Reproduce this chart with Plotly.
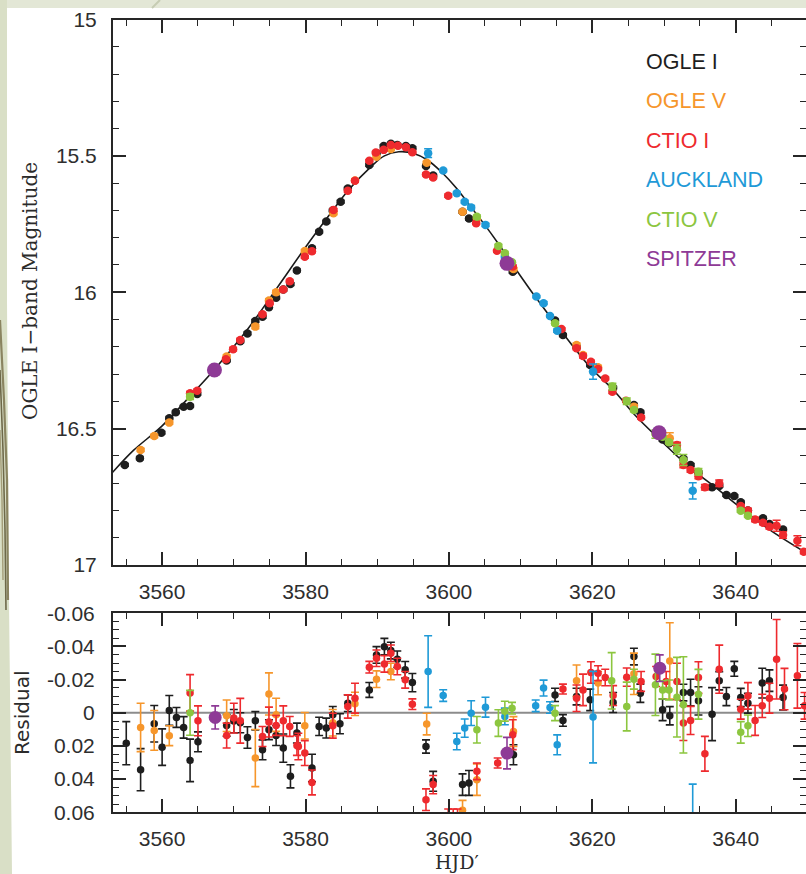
import plotly.graph_objects as go

# ---------------- series ----------------
SERIES = ["OGLE I", "OGLE V", "CTIO I", "AUCKLAND", "CTIO V", "SPITZER"]
COLORS = ["#1e1e1e", "#f6962b", "#ee2a2e", "#1f9ad7", "#8cc63f", "#8e3a96"]

# light curve points: (HJD', I-band magnitude, error)
ogle_i_lc = [
    (3554.8, 16.633, .005), (3556.9, 16.609, .005), (3559.9, 16.515, .005), (3561.0, 16.462, .005),
    (3561.9, 16.440, .005), (3563.0, 16.420, .005), (3563.9, 16.417, .005), (3564.9, 16.373, .005),
    (3569.0, 16.250, .005), (3570.9, 16.180, .005), (3571.9, 16.151, .005), (3573.0, 16.105, .005),
    (3574.0, 16.090, .005), (3574.9, 16.055, .005), (3575.9, 16.020, .005), (3576.9, 15.990, .005),
    (3577.9, 15.970, .005), (3578.8, 15.920, .005), (3580.9, 15.839, .005), (3581.9, 15.778, .005),
    (3582.9, 15.741, .005), (3583.8, 15.700, .005), (3584.9, 15.668, .005), (3585.9, 15.620, .005),
    (3588.9, 15.533, .005), (3589.9, 15.490, .005), (3590.9, 15.464, .005), (3591.9, 15.456, .005),
    (3592.8, 15.460, .005), (3594.0, 15.464, .005), (3594.9, 15.472, .005), (3596.8, 15.537, .005),
    (3597.8, 15.572, .005), (3601.9, 15.705, .005), (3602.8, 15.730, .005), (3608.9, 15.925, .005),
    (3614.8, 16.104, .005), (3615.9, 16.157, .005), (3617.8, 16.200, .005), (3619.7, 16.267, .005),
    (3622.9, 16.350, .005), (3625.8, 16.413, .005), (3626.7, 16.440, .005), (3629.8, 16.540, .005),
    (3630.7, 16.554, .005), (3632.7, 16.610, .005), (3633.7, 16.633, .005), (3634.8, 16.660, .005),
    (3636.7, 16.715, .005), (3637.7, 16.710, .005), (3638.7, 16.743, .005), (3639.8, 16.747, .005),
    (3640.7, 16.770, .005), (3641.7, 16.800, .005), (3643.8, 16.829, .005), (3644.7, 16.850, .005),
    (3646.6, 16.870, .005),
]
ogle_v_lc = [
    (3557.0, 16.578, .006), (3558.9, 16.527, .006), (3561.0, 16.478, .006), (3569.0, 16.236, .006),
    (3573.0, 16.126, .008), (3574.9, 16.030, .006), (3575.9, 16.000, .006), (3579.9, 15.849, .006),
    (3583.9, 15.710, .006), (3586.9, 15.590, .006), (3589.9, 15.503, .005), (3591.9, 15.475, .005),
    (3596.9, 15.525, .005), (3601.9, 15.705, .005), (3603.9, 15.730, .006), (3609.0, 15.915, .006),
    (3617.8, 16.193, .007), (3618.7, 16.230, .006), (3620.8, 16.275, .006), (3625.8, 16.420, .008),
    (3630.8, 16.535, .020),
]
ctio_i_lc = [
    (3563.9, 16.370, .006), (3564.9, 16.361, .006), (3568.9, 16.246, .006), (3569.9, 16.209, .006),
    (3570.9, 16.175, .006), (3574.0, 16.081, .005), (3575.0, 16.040, .005), (3576.9, 15.990, .005),
    (3577.8, 15.960, .005), (3579.9, 15.870, .005), (3580.9, 15.850, .005), (3583.9, 15.698, .005),
    (3585.9, 15.628, .005), (3586.9, 15.591, .005), (3588.9, 15.518, .004), (3589.8, 15.488, .004),
    (3590.9, 15.478, .004), (3591.9, 15.460, .004), (3592.9, 15.463, .004), (3594.0, 15.468, .004),
    (3594.9, 15.487, .004), (3596.8, 15.568, .005), (3597.8, 15.579, .005), (3599.9, 15.646, .006),
    (3603.8, 15.747, .005), (3606.7, 15.848, .004), (3608.9, 15.906, .006), (3615.7, 16.135, .004),
    (3617.8, 16.205, .006), (3618.7, 16.234, .007), (3619.8, 16.255, .006), (3620.8, 16.281, .005),
    (3621.8, 16.316, .005), (3622.8, 16.365, .006), (3624.7, 16.398, .005), (3626.8, 16.459, .006),
    (3628.9, 16.520, .006), (3631.8, 16.560, .010), (3632.7, 16.633, .010), (3633.7, 16.652, .008),
    (3634.8, 16.675, .009), (3635.7, 16.715, .010), (3637.7, 16.700, .012), (3640.7, 16.784, .006),
    (3641.7, 16.800, .008), (3642.7, 16.833, .008), (3643.8, 16.845, .007), (3644.7, 16.860, .008),
    (3645.7, 16.856, .020), (3646.6, 16.890, .012), (3648.6, 16.911, .018), (3649.5, 16.951, .008),
]
auckland_lc = [
    (3597.1, 15.490, .016), (3599.2, 15.554, .004), (3601.1, 15.637, .005), (3602.2, 15.668, .005),
    (3603.1, 15.689, .007), (3605.1, 15.753, .006), (3607.8, 15.870, .005), (3612.2, 16.016, .004),
    (3613.2, 16.040, .005), (3614.1, 16.087, .004), (3615.1, 16.141, .006), (3620.1, 16.291, .028),
    (3634.0, 16.728, .030),
]
ctio_v_lc = [
    (3563.9, 16.383, .010), (3603.9, 15.723, .006), (3606.9, 15.830, .006), (3607.8, 15.857, .005),
    (3608.8, 15.890, .004), (3614.8, 16.114, .005), (3622.8, 16.346, .012), (3624.8, 16.400, .012),
    (3625.8, 16.432, .006), (3628.8, 16.520, .015), (3629.8, 16.530, .006), (3630.7, 16.550, .006),
    (3631.8, 16.576, .018), (3632.7, 16.615, .020), (3634.8, 16.658, .012), (3640.7, 16.801, .006),
    (3641.7, 16.819, .006),
]
spitzer_lc = [(3567.3, 16.285, .006), (3608.1, 15.894, .008), (3629.3, 16.515, .008)]

# residuals from the fit: (HJD', residual, error)
ogle_i_res = [
    (3555.0, .0183, .0130), (3557.0, .0343, .0127), (3558.9, .0066, .0110), (3560.0, .0207, .0110),
    (3561.0, -.0014, .0090), (3562.0, .0028, .0060), (3563.0, .0088, .0065), (3563.9, .0287, .0128),
    (3565.0, .0175, .0060), (3569.0, .0076, .0065), (3570.0, .0050, .0070), (3570.9, .0060, .0060),
    (3571.9, .0149, .0065), (3573.0, .0048, .0055), (3574.0, .0223, .0060), (3574.9, .0102, .0060),
    (3575.9, .0137, .0060), (3576.9, .0213, .0085), (3577.9, .0383, .0070), (3578.8, .0122, .0060),
    (3580.9, .0333, .0083), (3581.9, .0082, .0055), (3582.9, .0092, .0060), (3583.8, .0012, .0050),
    (3584.8, .0066, .0060), (3585.9, -.0058, .0050), (3588.9, -.0138, .0045), (3589.9, -.0349, .0050),
    (3591.0, -.0399, .0050), (3591.9, -.0375, .0050), (3592.8, -.0323, .0050), (3593.9, -.0259, .0050),
    (3594.9, -.0182, .0055), (3596.8, .0203, .0040), (3597.8, .0413, .0060), (3601.9, .0433, .0065),
    (3602.8, .0423, .0075), (3609.0, .0253, .0060), (3614.8, -.0108, .0040), (3615.9, .0046, .0035),
    (3617.8, -.0098, .0050), (3619.7, -.0078, .0065), (3622.9, -.0062, .0060), (3625.8, -.0339, .0050),
    (3626.7, -.0118, .0055), (3629.8, -.0018, .0065), (3630.8, .0018, .0055), (3632.7, -.0122, .0050),
    (3633.7, -.0122, .0080), (3634.8, -.0072, .0085), (3636.7, .0008, .0160), (3637.7, -.0193, .0055),
    (3638.7, -.0098, .0055), (3639.8, -.0265, .0045), (3640.7, -.0092, .0055), (3641.7, -.0058, .0060),
    (3643.7, -.0179, .0090), (3644.7, -.0194, .0065), (3646.6, -.0092, .0075),
]
ogle_v_res = [
    (3557.0, .0088, .0146), (3558.9, .0106, .0120), (3561.0, .0138, .0060), (3569.0, .0018, .0095),
    (3573.0, .0273, .0172), (3574.9, -.0114, .0127), (3575.9, .0012, .0100), (3579.9, .0078, .0080),
    (3583.8, .0060, .0080), (3586.9, -.0054, .0070), (3589.9, -.0203, .0050), (3591.9, -.0249, .0050),
    (3596.9, .0068, .0065), (3601.9, .0588, .0060), (3603.9, .0403, .0095), (3609.0, .0113, .0090),
    (3617.8, -.0193, .0095), (3620.8, -.0179, .0070), (3625.8, -.0235, .0125), (3630.8, -.0313, .0230),
]
ctio_i_res = [
    (3563.9, -.0120, .0110), (3565.0, .0048, .0090), (3569.0, .0137, .0075), (3570.0, .0032, .0090),
    (3570.9, .0048, .0135), (3574.0, .0143, .0060), (3574.9, .0056, .0090), (3575.9, .0076, .0060),
    (3576.9, .0048, .0090), (3577.8, .0082, .0060), (3578.8, .0197, .0060), (3579.0, .0203, .0080),
    (3579.9, .0243, .0075), (3580.9, .0420, .0075), (3583.8, .0078, .0075), (3585.9, -.0038, .0070),
    (3586.9, -.0088, .0090), (3588.9, -.0275, .0035), (3589.9, -.0329, .0050), (3591.0, -.0295, .0050),
    (3591.9, -.0359, .0050), (3592.8, -.0279, .0050), (3593.9, -.0199, .0050), (3594.9, -.0052, .0032),
    (3596.8, .0524, .0065), (3597.8, .0433, .0055), (3599.9, .0680, .0100), (3600.6, .0700, .0120),
    (3601.2, .0720, .0140), (3603.9, .0353, .0050), (3606.8, .0303, .0030), (3608.9, .0132, .0090),
    (3615.9, -.0143, .0030), (3617.8, -.0088, .0080), (3618.7, -.0138, .0095), (3619.8, -.0243, .0065),
    (3620.8, -.0239, .0045), (3621.8, -.0213, .0050), (3622.9, -.0104, .0060), (3624.8, -.0215, .0055),
    (3626.8, -.0189, .0060), (3628.9, -.0219, .0060), (3630.3, -.0189, .0060), (3631.8, -.0189, .0110),
    (3632.7, .0062, .0105), (3633.7, .0046, .0085), (3634.8, -.0213, .0095), (3635.7, .0247, .0105),
    (3637.7, -.0263, .0145), (3640.7, -.0022, .0060), (3641.7, -.0102, .0080), (3642.7, .0046, .0090),
    (3643.7, -.0042, .0070), (3644.7, -.0088, .0090), (3645.7, -.0323, .0240), (3646.8, -.0143, .0125),
    (3648.6, -.0223, .0195), (3649.6, -.0042, .0080),
]
auckland_res = [
    (3597.1, -.0249, .0216), (3599.2, -.0104, .0035), (3601.1, .0173, .0050), (3602.2, .0092, .0055),
    (3603.1, .0002, .0075), (3605.1, -.0034, .0060), (3607.8, .0022, .0050), (3612.1, -.0042, .0035),
    (3613.2, -.0149, .0048), (3614.1, -.0032, .0035), (3615.1, .0193, .0060), (3620.1, .0026, .0276),
    (3634.0, .0750, .0320),
]
ctio_v_res = [
    (3563.9, .0000, .0135), (3603.9, .0102, .0080), (3606.9, .0062, .0080), (3607.8, -.0010, .0060),
    (3608.8, -.0028, .0035), (3614.8, .0002, .0045), (3622.7, -.0193, .0170), (3624.8, -.0038, .0147),
    (3625.8, -.0203, .0060), (3628.8, -.0169, .0185), (3629.8, -.0138, .0055), (3630.7, -.0138, .0060),
    (3631.8, -.0094, .0240), (3632.7, -.0048, .0290), (3634.8, -.0112, .0150), (3640.7, .0118, .0065),
    (3641.7, .0078, .0065),
]
spitzer_res = [(3567.4, .0028, .0070), (3608.1, .0243, .0095), (3629.4, -.0269, .0080)]

# best-fit model light curve
model_hjd = [3553.0, 3556.0, 3560.0, 3564.0, 3567.3, 3572.0, 3576.0, 3580.0, 3583.0, 3586.0,
             3589.0, 3591.0, 3593.0, 3595.0, 3597.0, 3599.0, 3601.0, 3603.0, 3605.0, 3607.0,
             3609.0, 3612.0, 3615.0, 3619.7, 3623.0, 3626.0, 3629.4, 3633.7, 3637.7, 3640.0,
             3644.7, 3650.0]
model_mag = [16.663, 16.580, 16.490, 16.378, 16.283, 16.133, 15.985, 15.835, 15.728, 15.625,
             15.543, 15.500, 15.485, 15.490, 15.515, 15.560, 15.617, 15.685, 15.753, 15.826,
             15.903, 16.015, 16.120, 16.275, 16.360, 16.452, 16.540, 16.645, 16.726, 16.776,
             16.870, 16.958]

LC = [ogle_i_lc, ogle_v_lc, ctio_i_lc, auckland_lc, ctio_v_lc, spitzer_lc]
RES = [ogle_i_res, ogle_v_res, ctio_i_res, auckland_res, ctio_v_res, spitzer_res]

X_TICKS = [3560, 3580, 3600, 3620, 3640]
MAG_TICKS = [15, 15.5, 16, 16.5, 17]
MAG_LABELS = ["15", "15.5", "16", "16.5", "17"]
RES_TICKS = [-0.06, -0.04, -0.02, 0, 0.02, 0.04, 0.06]
RES_LABELS = ["-0.06", "-0.04", "-0.02", "0", "0.02", "0.04", "0.06"]

# ---------------- page geometry (pixels) ----------------
W, H = 806, 874
LEFT = 113
TOP_PANEL = (19.5, 565.0)     # top, bottom
RES_PANEL = (613.3, 812.3)


def px_x(p):
    return (p - LEFT) / (W - LEFT)


def px_y(p):
    return 1 - p / H


def px_path(points):
    return "M " + " L ".join(f"{px_x(a):.5f},{px_y(b):.5f}" for a, b in points)


fig = go.Figure()

# model curve
fig.add_trace(go.Scatter(x=model_hjd, y=model_mag, mode="lines",
                         line=dict(color="#1a1a1a", width=1.6, shape="spline"),
                         hoverinfo="skip", xaxis="x", yaxis="y"))
# zero line for residuals
fig.add_trace(go.Scatter(x=[3540, 3670], y=[0, 0], mode="lines", line=dict(color="#8c8c8c", width=2),
                         hoverinfo="skip", xaxis="x2", yaxis="y2"))

for name, col, lc, rs in zip(SERIES, COLORS, LC, RES):
    big = name == "SPITZER"
    fig.add_trace(go.Scatter(
        x=[p[0] for p in lc], y=[p[1] for p in lc], mode="markers", name=name,
        marker=dict(color=col, size=15 if big else 8.5, line=dict(width=0)),
        error_y=dict(type="data", array=[p[2] for p in lc], color=col, thickness=1.5, width=4),
        xaxis="x", yaxis="y"))
    fig.add_trace(go.Scatter(
        x=[p[0] for p in rs], y=[p[1] for p in rs], mode="markers", name=name,
        marker=dict(color=col, size=13 if big else 7.5, line=dict(width=0)),
        error_y=dict(type="data", array=[p[2] for p in rs], color=col, thickness=1.6, width=4),
        xaxis="x2", yaxis="y2"))

AX = "#262626"
SANS = "Liberation Sans, Arial, sans-serif"
tickfont = dict(family=SANS, size=21, color="#2e2e2e")
common = dict(showline=True, linecolor=AX, linewidth=2, mirror="ticks", ticks="inside", ticklen=13,
              tickwidth=1.5, tickcolor=AX, showgrid=False, zeroline=False, tickfont=tickfont)

xcommon = dict(common, range=[3553.15, 3649.8], tickvals=X_TICKS, ticktext=[str(v) for v in X_TICKS],
               minor=dict(ticks="inside", ticklen=6, tickwidth=1.3, tickcolor=AX, dtick=5, tick0=3560,
                          showgrid=False))

fig.update_layout(
    width=W, height=H,
    margin=dict(l=LEFT, r=0, t=0, b=0, autoexpand=False),
    paper_bgcolor="white", plot_bgcolor="white",
    showlegend=False,
    xaxis=dict(xcommon, domain=[0, 1], anchor="y", ticklabelstandoff=7),
    yaxis=dict(common, domain=[px_y(TOP_PANEL[1]), px_y(TOP_PANEL[0])], range=[17, 15], anchor="x",
               tickvals=MAG_TICKS, ticktext=MAG_LABELS, ticklabelstandoff=10,
               minor=dict(ticks="inside", ticklen=6, tickwidth=1.3, tickcolor=AX, dtick=0.1, tick0=15,
                          showgrid=False)),
    xaxis2=dict(xcommon, domain=[0, 1], anchor="y2", matches="x", ticklabelstandoff=6),
    yaxis2=dict(common, domain=[px_y(RES_PANEL[1]), px_y(RES_PANEL[0])], range=[0.06, -0.06], anchor="x2",
                tickvals=RES_TICKS, ticktext=RES_LABELS, ticklabelstandoff=12,
                minor=dict(ticks="inside", ticklen=6, tickwidth=1.3, tickcolor=AX, dtick=0.005, tick0=0,
                           showgrid=False)),
)

# legend as coloured labels
legend_y = [61.7, 101, 141, 180, 220, 259]
for name, col, yy in zip(SERIES, COLORS, legend_y):
    fig.add_annotation(x=px_x(644), y=px_y(yy), xref="paper", yref="paper", text=name, showarrow=False,
                       xanchor="left", yanchor="middle",
                       font=dict(family=SANS, size=21.5, color=col))

# axis titles
title_font = dict(family="DejaVu Serif", size=20, color="#2b2b2b")
fig.add_annotation(x=px_x(30), y=px_y(291), xref="paper", yref="paper", text="OGLE I\u2212band Magnitude",
                   textangle=-90, showarrow=False, xanchor="center", yanchor="middle", font=title_font)
fig.add_annotation(x=px_x(22), y=px_y(713), xref="paper", yref="paper", text="Residual",
                   textangle=-90, showarrow=False, xanchor="center", yanchor="middle",
                   font=dict(family="DejaVu Sans", size=20, color="#2b2b2b"))
fig.add_annotation(x=px_x(457), y=px_y(862), xref="paper", yref="paper", text="HJD\u2032",
                   showarrow=False, xanchor="center", yanchor="middle",
                   font=dict(family="DejaVu Serif", size=19, color="#2b2b2b"))

# slide background around the white card
fig.add_shape(type="rect", xref="paper", yref="paper", x0=px_x(0), x1=px_x(W), y0=px_y(0), y1=px_y(8),
              fillcolor="#e3e7d6", line_width=0, layer="below")
fig.add_shape(type="path", xref="paper", yref="paper", layer="below", line_width=0, fillcolor="#d9dfc6",
              path=px_path([(0, 0), (7, 0), (7, 300), (9, 600), (12, H), (0, H)]) + " Z")
# decorative olive swooshes on the slide edge
for pts, col, wdt in [
    ([(0, 320), (4, 400), (7, 480), (8, 600)], "#8a8460", 2.2),
    ([(0, 370), (3, 450), (5, 530), (6, 610)], "#6e6949", 1.6),
    ([(0, 430), (2, 500), (3, 580)], "#a39d78", 1.4),
    ([(152, 8), (160, 0)], "#c6ccb3", 2.0),
]:
    fig.add_shape(type="path", xref="paper", yref="paper", layer="below",
                  path=px_path(pts), line=dict(color=col, width=wdt))

fig.write_html("out.html")
